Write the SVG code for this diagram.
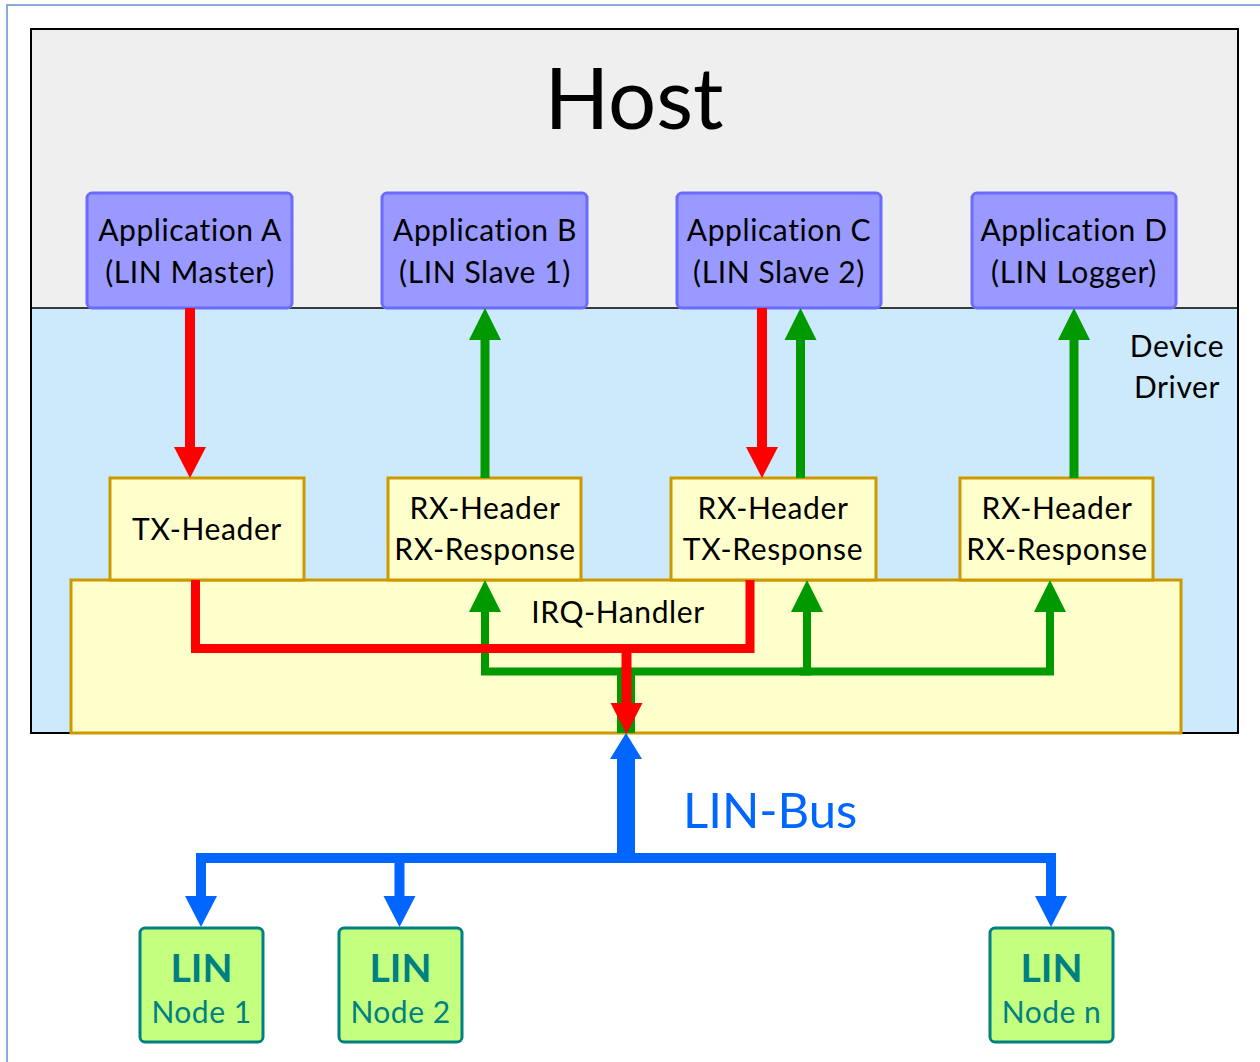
<svg xmlns="http://www.w3.org/2000/svg" width="1260" height="1062" viewBox="0 0 1260 1062">
<style>
text{font-family:Lato,"Open Sans","Liberation Sans",sans-serif;fill:#000;text-anchor:middle}
.app{fill:#9999ff;stroke:#6b6bff;stroke-width:3}
.blk{fill:#ffffcc;stroke:#cc9900;stroke-width:3}
.node{fill:#c4ff80;stroke:#008080;stroke-width:3}
.t{font-size:30px;letter-spacing:0.6px}
.lin{font-size:39px;font-weight:bold;fill:#008080}
.nd{font-size:30px;letter-spacing:0.5px;fill:#008080}
.red{fill:none;stroke:#ff0000;stroke-width:10;stroke-linejoin:miter}
.grn{fill:none;stroke:#009900;stroke-width:9;stroke-linejoin:miter}
.blu{fill:none;stroke:#0066ff;stroke-width:10;stroke-linejoin:miter}
</style>
<defs>
<marker id="ar" markerUnits="userSpaceOnUse" markerWidth="32" markerHeight="32" refX="0" refY="16" orient="auto" overflow="visible"><path d="M0,0 L31,16 L0,32 z" fill="#ff0000"/></marker>
<marker id="ag" markerUnits="userSpaceOnUse" markerWidth="32" markerHeight="32" refX="0" refY="16" orient="auto" overflow="visible"><path d="M0,0 L32,16 L0,32 z" fill="#009900"/></marker>
<marker id="ab" markerUnits="userSpaceOnUse" markerWidth="32" markerHeight="32" refX="0" refY="16" orient="auto" overflow="visible"><path d="M0,0 L31,16 L0,32 z" fill="#0066ff"/></marker>
<marker id="ab2" markerUnits="userSpaceOnUse" markerWidth="32" markerHeight="32" refX="0" refY="16" orient="auto" overflow="visible"><path d="M0,0 L26,16 L0,32 z" fill="#0066ff"/></marker>
</defs>
<rect width="1260" height="1062" fill="#fff"/>
<path d="M7,1062 V5 H1260" fill="none" stroke="#8eaadb" stroke-width="2"/>
<g id="host">
<rect x="31" y="29" width="1207" height="279" fill="#efefef"/>
<rect x="31" y="308" width="1207" height="425" fill="#cdeafc"/>
<rect x="31" y="29" width="1207" height="704" fill="none" stroke="#000" stroke-width="2"/>
<line x1="31" y1="308" x2="1238" y2="308" stroke="#000" stroke-width="1.5"/>
<text x="634" y="129" style="font-size:85px">Host</text>
</g>
<g id="device-driver">
<text class="t" x="1177" y="357">Device</text>
<text class="t" x="1177" y="398">Driver</text>
</g>
<g id="appA"><rect class="app" x="87" y="193" width="205" height="115" rx="5"/><text class="t" x="190" y="241">Application A</text><text class="t" x="190" y="283">(LIN Master)</text></g>
<g id="appB"><rect class="app" x="382" y="193" width="205" height="115" rx="5"/><text class="t" x="485" y="241">Application B</text><text class="t" x="485" y="283">(LIN Slave 1)</text></g>
<g id="appC"><rect class="app" x="677" y="193" width="204" height="115" rx="5"/><text class="t" x="779" y="241">Application C</text><text class="t" x="779" y="283">(LIN Slave 2)</text></g>
<g id="appD"><rect class="app" x="972" y="193" width="204" height="115" rx="5"/><text class="t" x="1074" y="241">Application D</text><text class="t" x="1074" y="283">(LIN Logger)</text></g>
<g id="irq"><rect class="blk" x="71" y="580" width="1110" height="153"/><text class="t" x="618" y="623">IRQ-Handler</text></g>
<g id="txA"><rect class="blk" x="110" y="478" width="194" height="102"/><text class="t" x="207" y="540">TX-Header</text></g>
<g id="rxB"><rect class="blk" x="388" y="478" width="193" height="102"/><text class="t" x="485" y="519">RX-Header</text><text class="t" x="485" y="560">RX-Response</text></g>
<g id="rxC"><rect class="blk" x="671" y="478" width="205" height="102"/><text class="t" x="773" y="519">RX-Header</text><text class="t" x="773" y="560">TX-Response</text></g>
<g id="rxD"><rect class="blk" x="960" y="478" width="193" height="102"/><text class="t" x="1057" y="519">RX-Header</text><text class="t" x="1057" y="560">RX-Response</text></g>
<g id="connectors">
<path class="red" d="M190,308 V447" marker-end="url(#ar)"/>
<path class="red" d="M762,308 V447" marker-end="url(#ar)"/>
<path class="grn" d="M485,478 V340" marker-end="url(#ag)"/>
<path class="grn" d="M800.5,478 V340" marker-end="url(#ag)"/>
<path class="grn" d="M1074,478 V340" marker-end="url(#ag)"/>
<path class="grn" d="M626,733 V671.5" style="stroke-width:18"/>
<path class="grn" d="M626,671.5 H485 V612" style="stroke-width:8" marker-end="url(#ag)"/>
<path class="grn" d="M620,671.5 H807 V612" style="stroke-width:8" marker-end="url(#ag)"/>
<path class="grn" d="M800,671.5 H1050 V612" style="stroke-width:8" marker-end="url(#ag)"/>
<path class="red" d="M195.5,580 V648.5 H750 V580" style="stroke-width:9"/>
<path class="red" d="M626.5,648.5 V703" marker-end="url(#ar)"/>
<path class="blu" d="M626,858 V759" style="stroke-width:18" marker-end="url(#ab2)"/>
<path class="blu" d="M201,896 V858 H1051 V896" marker-end="url(#ab)"/>
<path class="blu" d="M201,858 V896" marker-end="url(#ab)"/>
<path class="blu" d="M399.5,858 V896" marker-end="url(#ab)"/>
<text x="683" y="828" style="font-size:49px;fill:#0066ff;text-anchor:start">LIN-Bus</text>
</g>
<g id="node1"><rect class="node" x="140" y="928" width="123" height="114" rx="5"/><text class="lin" x="201.5" y="982">LIN</text><text class="nd" x="201.5" y="1023">Node 1</text></g>
<g id="node2"><rect class="node" x="339" y="928" width="123" height="114" rx="5"/><text class="lin" x="400.5" y="982">LIN</text><text class="nd" x="400.5" y="1023">Node 2</text></g>
<g id="noden"><rect class="node" x="990" y="928" width="123" height="114" rx="5"/><text class="lin" x="1051.5" y="982">LIN</text><text class="nd" x="1051.5" y="1023">Node n</text></g>
</svg>
